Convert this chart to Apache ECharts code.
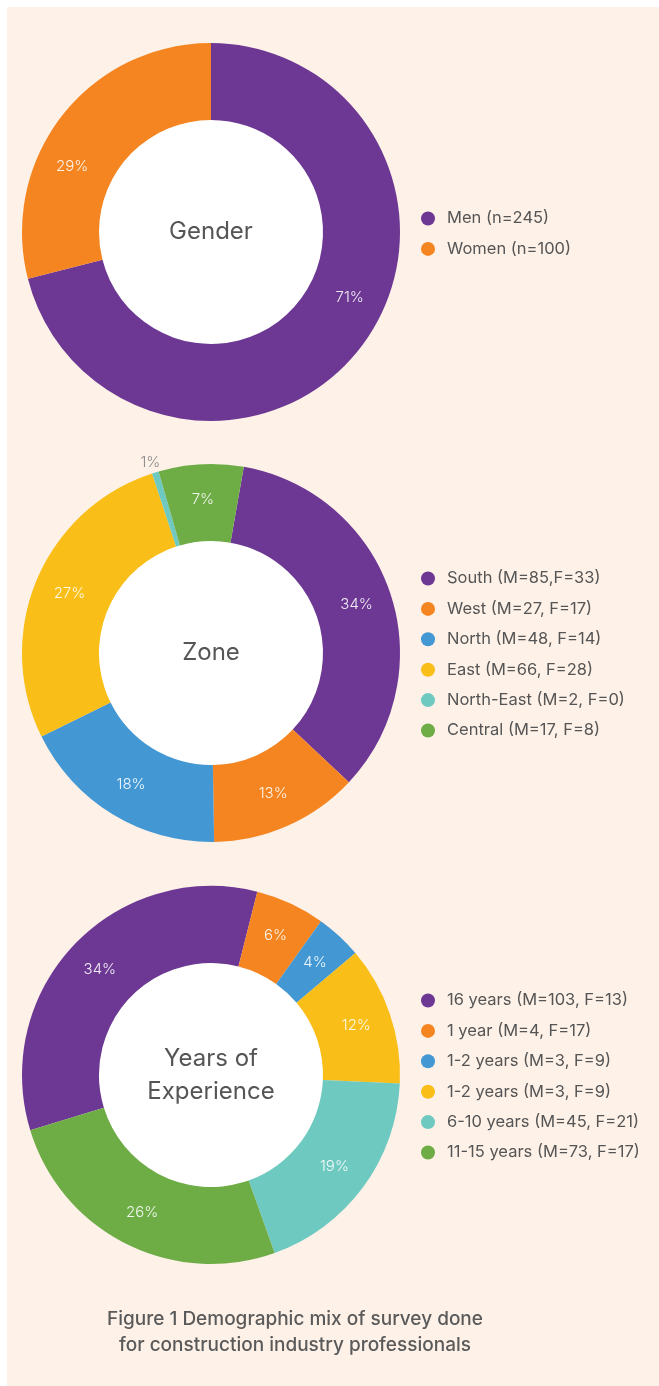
<!DOCTYPE html>
<html>
<head>
<meta charset="utf-8">
<title>Demographic mix</title>
<script src="https://cdn.jsdelivr.net/npm/echarts@6/dist/echarts.min.js"></script>
<style>
  html, body {
    margin: 0;
    padding: 0;
    background: #ffffff;
  }
  #chart {
    position: absolute;
    left: 7px;
    top: 7px;
    width: 652px;
    height: 1379px;
  }
</style>
</head>
<body>
<div id="chart"></div>
<script>
// gender
const genderNames = ['Men (n=245)', 'Women (n=100)']
const genderValues = [245, 100]

// zone (M + F per zone)
const zoneNames = [
  'South (M=85,F=33)',
  'West (M=27, F=17)',
  'North (M=48, F=14)',
  'East (M=66, F=28)',
  'North-East (M=2, F=0)',
  'Central (M=17, F=8)'
]
const zoneValues = [118, 44, 62, 94, 2, 25]

// years of experience, slice sizes as printed (%)
// second "1-2 years" gets a trailing space so the legend keeps both rows
const yearsNames = [
  '16 years (M=103, F=13)',
  '1 year (M=4, F=17)',
  '1-2 years (M=3, F=9)',
  '1-2 years (M=3, F=9) ',
  '6-10 years (M=45, F=21)',
  '11-15 years (M=73, F=17)'
]
const yearsValues = [34, 6, 4, 12, 19, 26]

const colors = ['#6d3894', '#f58521', '#4398d4', '#f9be17', '#6ec9c1', '#6eac46']

const font = 'Inter, "Noto Sans", sans-serif'
const radius = [112, 189]

function toData(names, values) {
  return names.map((n, i) => ({
    name: n,
    value: values[i],
    itemStyle: { color: colors[i] }
  }))
}

const insideLabel = {
  show: true,
  position: 'inside',
  color: 'rgba(255,255,255,0.9)',
  fontFamily: font,
  fontWeight: 300,
  fontSize: 15
}

function legendFor(names, top) {
  return {
    data: names,
    orient: 'vertical',
    left: 414,
    top: top,
    padding: 0,
    icon: 'circle',
    itemWidth: 14,
    itemHeight: 14,
    itemGap: 13.4,
    selectedMode: false,
    textStyle: {
      color: '#555555',
      fontFamily: font,
      fontSize: 16.5,
      lineHeight: 17,
      padding: [0, 0, 0, 7]
    }
  }
}

// white disc inside each ring plus its caption
function hole(cy, text) {
  return [
    {
      type: 'circle',
      shape: { cx: 204, cy: cy, r: radius[0] + 0.5 },
      style: { fill: '#ffffff' },
      silent: true
    },
    {
      type: 'text',
      x: 204,
      y: cy,
      style: {
        text: text,
        fill: '#555555',
        font: '24px ' + font,
        lineHeight: 33,
        textAlign: 'center',
        textVerticalAlign: 'middle'
      }
    }
  ]
}

const zoneData = toData(zoneNames, zoneValues)
// the tiny north-east slice keeps its label outside the ring
zoneData[4].label = {
  position: 'outside',
  color: '#8a8a8a',
  fontWeight: 300,
  distanceToLabelLine: -8
}
zoneData[4].labelLine = { show: false, length: 10, length2: 0 }

const option = {
  backgroundColor: '#fef1e8',
  animation: false,
  legend: [
    legendFor(genderNames, 203),
    legendFor(zoneNames, 563),
    legendFor(yearsNames, 985)
  ],
  graphic: [].concat(
    hole(225, 'Gender'),
    hole(646, 'Zone'),
    hole(1068, 'Years of\nExperience'),
    [{
      type: 'text',
      x: 288,
      y: 1325,
      style: {
        text: 'Figure 1 Demographic mix of survey done\nfor construction industry professionals',
        fill: '#5a5a5a',
        font: '500 19px ' + font,
        lineHeight: 26,
        textAlign: 'center',
        textVerticalAlign: 'middle'
      }
    }]
  ),
  series: [
    {
      name: 'Gender',
      type: 'pie',
      center: [204, 225],
      radius: radius,
      startAngle: 90,
      silent: true,
      label: { show: false },
      labelLine: { show: false },
      data: toData(genderNames, genderValues)
    },
    {
      // labels of the gender ring sit a bit back from the slice middles
      name: 'Gender labels',
      type: 'pie',
      center: [204, 225],
      radius: radius,
      startAngle: 102.5,
      silent: true,
      percentPrecision: 0,
      itemStyle: { color: 'rgba(0,0,0,0)' },
      label: Object.assign({}, insideLabel, { formatter: '{d}%' }),
      labelLine: { show: false },
      data: genderNames.map((n, i) => ({ name: n, value: genderValues[i] }))
    },
    {
      name: 'Zone',
      type: 'pie',
      center: [204, 646],
      radius: radius,
      startAngle: 80,
      silent: true,
      avoidLabelOverlap: false,
      percentPrecision: 0,
      label: Object.assign({}, insideLabel, { formatter: '{d}%' }),
      labelLine: { show: false },
      data: zoneData
    },
    {
      name: 'Years of Experience',
      type: 'pie',
      center: [204, 1068],
      radius: radius,
      startAngle: 197,
      silent: true,
      avoidLabelOverlap: false,
      label: Object.assign({}, insideLabel, { formatter: '{c}%' }),
      labelLine: { show: false },
      data: toData(yearsNames, yearsValues)
    }
  ]
}

const myChart = echarts.init(document.getElementById('chart'))
myChart.setOption(option)
</script>
</body>
</html>
